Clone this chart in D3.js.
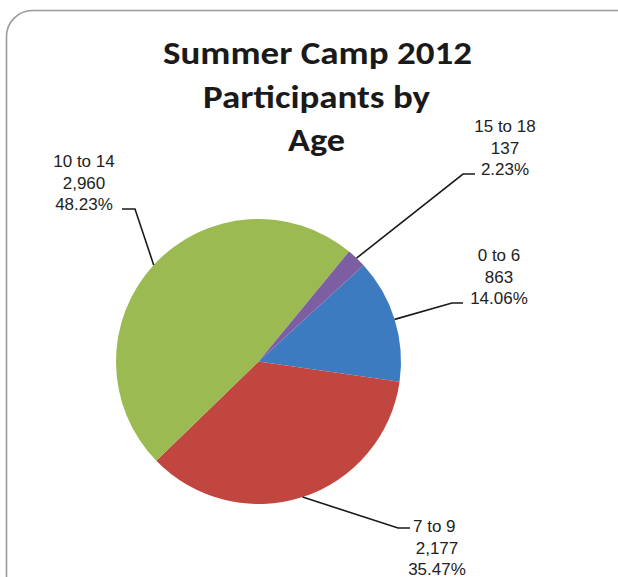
<!DOCTYPE html>
<html><head><meta charset="utf-8">
<script src="https://cdn.jsdelivr.net/npm/d3@7/dist/d3.min.js"></script>
<style>html,body{margin:0;padding:0;background:#fff;}svg{display:block;}</style>
</head><body>
<script>
const categories = ["0 to 6", "7 to 9", "10 to 14", "15 to 18"];
const values = [863, 2177, 2960, 137];
const colors = ["#3d7bc0", "#c0463f", "#9bbb52", "#7e5ea3"];
const titleLines = ["Summer Camp 2012", "Participants by", "Age"];

// label layout: elbow point, end of horizontal tick, text anchor point
const labelLayout = [
  {elbow:[452,303], end:[463,303], tx:499, ty:261, anchor:"middle"},
  {elbow:[398,528], end:[410,528], tx:437, ty:532, anchor:"middle", first:{x:413, anchor:"start"}},
  {elbow:[135,209], end:[122,209], tx:84, ty:167, anchor:"middle"},
  {elbow:[463,174], end:[475,174], tx:505, ty:132, anchor:"middle"}
];
const titleLayout = [
  {x:317.5, y:64, len:309},
  {x:316.5, y:108, len:227},
  {x:316.5, y:151, len:57}
];

const W = 618, H = 577;
const svg = d3.select("body").append("svg").attr("width", W).attr("height", H);

svg.append("rect").attr("x", 6.5).attr("y", 10.5).attr("width", 640).attr("height", 600)
  .attr("rx", 26).attr("fill", "#fff").attr("stroke", "#9a9a9a").attr("stroke-width", 1.6);

const cx = 258.5, cy = 361.5, r = 142.5;
const total = d3.sum(values);
const pie = d3.pie().sort(null).startAngle(47.5 * Math.PI / 180).endAngle((47.5 + 360) * Math.PI / 180);
const arcs = pie(values);
const arc = d3.arc().innerRadius(0).outerRadius(r);

const g = svg.append("g").attr("transform", `translate(${cx},${cy})`);
g.selectAll("path").data(arcs).join("path")
  .attr("d", arc).attr("fill", (d, i) => colors[i]);

const fmt = d3.format(",");
arcs.forEach((d, i) => {
  const L = labelLayout[i];
  const mid = (d.startAngle + d.endAngle) / 2;
  const sx = cx + r * Math.sin(mid), sy = cy - r * Math.cos(mid);
  svg.append("polyline")
    .attr("points", [[sx, sy], L.elbow, L.end].map(p => p.join(",")).join(" "))
    .attr("fill", "none").attr("stroke", "#1a1a1a").attr("stroke-width", 1.6);
  const lines = [categories[i], fmt(values[i]), (values[i] / total * 100).toFixed(2) + "%"];
  lines.forEach((t, k) => {
    let x = L.tx, anchor = L.anchor;
    if (k === 0 && L.first) { x = L.first.x; anchor = L.first.anchor; }
    svg.append("text").attr("x", x).attr("y", L.ty + k * 21.5)
      .attr("text-anchor", anchor)
      .attr("font-family", "'Liberation Sans', Arial, sans-serif")
      .attr("font-size", 17).attr("fill", "#222").text(t);
  });
});

titleLines.forEach((t, k) => {
  const T = titleLayout[k];
  svg.append("text").attr("x", T.x).attr("y", T.y)
    .attr("text-anchor", "middle")
    .attr("font-family", "Carlito, Lato, 'Open Sans', sans-serif")
    .attr("font-weight", "bold").attr("font-size", 32)
    .attr("textLength", T.len).attr("lengthAdjust", "spacingAndGlyphs")
    .attr("fill", "#1a1a1a").text(t);
});
</script>
</body></html>
